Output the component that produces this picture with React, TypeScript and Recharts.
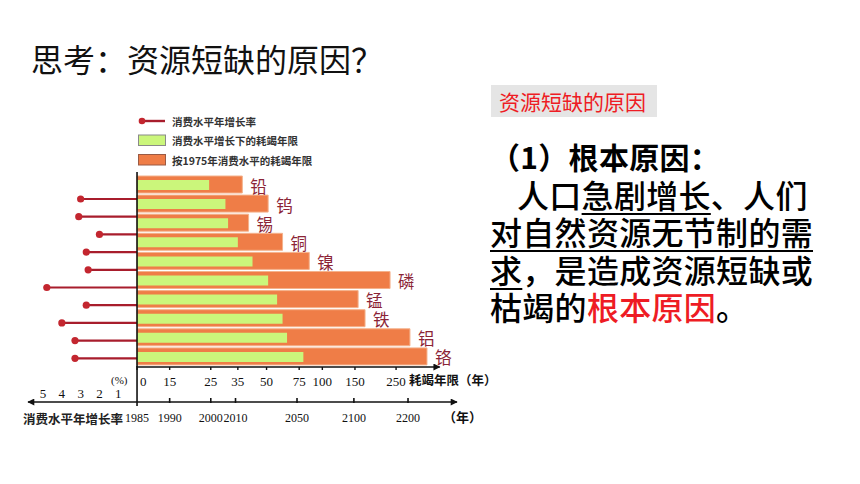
import React from 'react';
import { ComposedChart, Bar, XAxis, YAxis, ReferenceLine, LabelList, Legend } from 'recharts';

// ---------- data ----------
const metals = ['铅', '钨', '锡', '铜', '镍', '磷', '锰', '铁', '铝', '铬'];
// consumption growth rate (%/yr)
const growthRate = [3.0, 3.1, 2.0, 2.7, 2.6, 4.8, 2.7, 4.0, 3.3, 3.3];
// depletion time (years after 1975) at growing consumption
const yearsAtGrowth = [24.5, 30, 31, 35, 42, 51, 57, 61, 64.5, 79];
// depletion time (years after 1975) at 1975 consumption level
const yearsAt1975 = [37, 51, 40, 61, 85, 232, 156, 170, 297, 367];

// axis origin of the depletion axis (1985 = 10 years after 1975)
const ORIGIN = 10;
const depTicks = [10, 15, 25, 35, 50, 75, 100, 150, 250];
const depTickLabels = ['0', '15', '25', '35', '50', '75', '100', '150', '250'];
const yearTickPos = [10, 15, 25, 34, 73, 148, 290];
const yearTickLabels = ['1985', '1990', '2000', '2010', '2050', '2100', '2200'];
const pctTicks = [1, 2, 3, 4, 5];
const legendLabels = ['消费水平年增长率', '消费水平增长下的耗竭年限', '按1975年消费水平的耗竭年限'];

// axis extents
const DEP_DOMAIN = [2.58, 533];
const DEP_ARROW_END = 430;
const PCT_DOMAIN = [-17.02, 5.8];

const rows = metals.map((name, i) => ({
  name,
  rate: growthRate[i],
  green: [ORIGIN, yearsAtGrowth[i]],
  orange: [ORIGIN, yearsAt1975[i]],
}));
const LAST = metals[metals.length - 1];

// ---------- styles ----------
const CJK = '"Noto Sans CJK SC", "Noto Sans", sans-serif';
const SERIF = '"Liberation Serif", "DejaVu Serif", serif';
const ORANGE = '#ef7d47';
const GREEN = '#cbf67b';
const LOLLI = '#a81d2c';
const INK = '#111';

const Lollipop = (p: any) => {
  const { x, y, width, height } = p;
  const cy = y + height / 2;
  const xe = x + width;
  return (
    <g>
      <line x1={x} y1={cy} x2={xe} y2={cy} stroke={LOLLI} strokeWidth={2.2} />
      <circle cx={xe} cy={cy} r={3.6} fill="#c3262f" />
    </g>
  );
};

const MetalLabel = (p: any) => {
  const { x, y, width, height, value } = p;
  return (
    <text
      x={x + width + 8}
      y={y + height / 2 + 1}
      dominantBaseline="central"
      fontFamily={CJK}
      fontSize={16.5}
      fill="#8b2436"
    >
      {value}
    </text>
  );
};

const DepTick = (p: any) => {
  const { x, y, index } = p;
  const first = index === 0;
  return (
    <text
      x={first ? x + 3 : x}
      y={y + 8}
      textAnchor={first ? 'start' : 'middle'}
      dominantBaseline="central"
      fontFamily={SERIF}
      fontSize={13}
      fill={INK}
    >
      {depTickLabels[index]}
    </text>
  );
};

const PctTick = (p: any) => {
  const { x, y, payload } = p;
  return (
    <g>
      <text x={x} y={y - 8} textAnchor="middle" dominantBaseline="central" fontFamily={SERIF} fontSize={13} fill={INK}>
        {payload.value}
      </text>
      {payload.value === 1 && (
        <text x={x + 1} y={y - 21} textAnchor="middle" dominantBaseline="central" fontFamily={SERIF} fontSize={11} fill={INK}>
          (%)
        </text>
      )}
    </g>
  );
};

const YearTick = (p: any) => {
  const { x, y, index } = p;
  return (
    <g>
      {index > 0 ? (
        <line x1={x} x2={x} y1={y - 4} y2={y + 1} stroke={INK} strokeWidth={1.6} />
      ) : (
        <line x1={x} x2={x} y1={y - 36} y2={y + 4} stroke={INK} strokeWidth={1.6} />
      )}
      <text x={x} y={y + 16} textAnchor="middle" dominantBaseline="central" fontFamily={SERIF} fontSize={12} fill={INK}>
        {yearTickLabels[index]}
      </text>
      {index === 0 && (
        <text x={x - 14} y={y + 16} textAnchor="end" dominantBaseline="central" fontFamily={CJK} fontWeight={700} fontSize={12.5} fill="#222">
          消费水平年增长率
        </text>
      )}
    </g>
  );
};

const ArrowLine = (p: any) => (
  <line x1={p.x1} y1={p.y1} x2={p.x2} y2={p.y2} stroke={INK} strokeWidth={1.6} markerEnd="url(#arrowHead)" />
);

const LegendContent = () => (
  <svg width={230} height={62} style={{ display: 'block' }}>
    <line x1={3} x2={29} y1={11} y2={11} stroke={LOLLI} strokeWidth={2.4} />
    <circle cx={6} cy={11} r={3.3} fill="#c3262f" />
    <rect x={2.5} y={25} width={27} height={10.5} fill={GREEN} stroke="#8a8a8a" />
    <rect x={2.5} y={44.5} width={27} height={10.5} fill={ORANGE} stroke="#9a5a44" />
    {legendLabels.map((t, i) => (
      <text key={t} x={36} y={11 + i * 19.5} dominantBaseline="central" fontFamily={CJK} fontWeight={700} fontSize={10.5} fill="#333">
        {t}
      </text>
    ))}
  </svg>
);

const lineStyle: React.CSSProperties = {
  height: 37.5,
  lineHeight: '37.5px',
  whiteSpace: 'nowrap',
  fontSize: 32,
  letterSpacing: 0.3,
  fontWeight: 500,
  color: '#000',
};
const ul: React.CSSProperties = { textDecoration: 'underline', textDecorationThickness: 2, textUnderlineOffset: 5 };

export default function App() {
  return (
    <div style={{ position: 'absolute', left: 0, top: 0, width: 860, height: 484, background: '#fff', overflow: 'hidden', fontFamily: CJK }}>
      <div style={{ position: 'absolute', left: 0, top: 0 }}>
        <ComposedChart width={500} height={440} data={rows} layout="vertical" margin={{ top: 172, left: 28, right: 43, bottom: 8 }}>
          <defs>
            <marker id="arrowHead" viewBox="0 0 10 10" refX="9" refY="5" markerWidth="11" markerHeight="7" markerUnits="userSpaceOnUse" orient="auto-start-reverse">
              <path d="M0,0 L10,5 L0,10 z" fill={INK} />
            </marker>
          </defs>
          <XAxis xAxisId="pct" type="number" domain={PCT_DOMAIN} reversed allowDataOverflow ticks={pctTicks} height={1} axisLine={false} tickLine={false} tickSize={0} tickMargin={0} tick={PctTick} interval={0} />
          <XAxis xAxisId="dep" type="number" scale="log" domain={DEP_DOMAIN} allowDataOverflow ticks={depTicks} height={34} axisLine={false} tickLine={{ stroke: INK, strokeWidth: 1.4 }} tickSize={3} tickMargin={3} tick={DepTick} interval={0}
            label={{ value: '耗竭年限（年）', position: 'right', offset: -48, dy: -3, fill: INK, fontSize: 12.5, fontWeight: 700, fontFamily: CJK }} />
          <XAxis xAxisId="yr" type="number" scale="log" domain={DEP_DOMAIN} allowDataOverflow ticks={yearTickPos} height={30} axisLine={{ stroke: INK, strokeWidth: 1.6, markerStart: 'url(#arrowHead)', markerEnd: 'url(#arrowHead)' }} tickLine={false} tickSize={0} tickMargin={0} tick={YearTick} interval={0}
            label={{ value: '（年）', position: 'right', offset: -14, fill: INK, fontSize: 13, fontWeight: 700, fontFamily: CJK }} />
          <YAxis yAxisId="bar" type="category" dataKey="name" hide padding={{ top: 3, bottom: 1 }} />
          <YAxis yAxisId="green" type="category" dataKey="name" hide padding={{ top: 3, bottom: 1 }} />
          <YAxis yAxisId="lp" type="category" dataKey="name" hide padding={{ top: 18, bottom: 0 }} />
          <Bar xAxisId="dep" yAxisId="bar" dataKey="orange" fill={ORANGE} stroke="#f4b28c" strokeWidth={1} barSize={17} isAnimationActive={false}>
            <LabelList dataKey="name" content={MetalLabel} />
          </Bar>
          <Bar xAxisId="dep" yAxisId="green" dataKey="green" fill={GREEN} barSize={10} isAnimationActive={false} />
          <Bar xAxisId="pct" yAxisId="lp" dataKey="rate" barSize={2} shape={Lollipop} isAnimationActive={false} />
          <ReferenceLine xAxisId="dep" yAxisId="bar" x={ORIGIN} stroke={INK} strokeWidth={1.6} ifOverflow="visible" />
          <ReferenceLine xAxisId="dep" yAxisId="lp" segment={[{ x: ORIGIN, y: LAST }, { x: DEP_ARROW_END, y: LAST }]} position="end" ifOverflow="visible" shape={ArrowLine} />
          <Legend content={LegendContent} layout="vertical" align="center" verticalAlign="middle" wrapperStyle={{ left: 136, top: 110, width: 230, height: 62 }} />
        </ComposedChart>
      </div>

      <div style={{ position: 'absolute', left: 31, top: 38, fontSize: 32, lineHeight: '40px', color: '#111', whiteSpace: 'nowrap' }}>
        思考：资源短缺的原因？
      </div>

      <div style={{ position: 'absolute', left: 491, top: 85, width: 166, height: 32, background: '#e5e5e5', color: '#ee1c24', fontSize: 21, lineHeight: '32px', paddingLeft: 8, boxSizing: 'border-box', whiteSpace: 'nowrap' }}>
        资源短缺的原因
      </div>

      <div style={{ position: 'absolute', left: 490, top: 138 }}>
        <div style={{ ...lineStyle, fontSize: 30, fontWeight: 700 }}>（1）根本原因：</div>
        <div style={{ ...lineStyle, paddingLeft: 27 }}>
          人口<span style={ul}>急剧增长</span>、人们
        </div>
        <div style={lineStyle}>
          <span style={ul}>对自然资源无节制的需</span>
        </div>
        <div style={lineStyle}>
          <span style={ul}>求</span>，是造成资源短缺或
        </div>
        <div style={lineStyle}>
          枯竭的<span style={{ color: '#ee1c24' }}>根本原因</span>。
        </div>
      </div>
    </div>
  );
}
